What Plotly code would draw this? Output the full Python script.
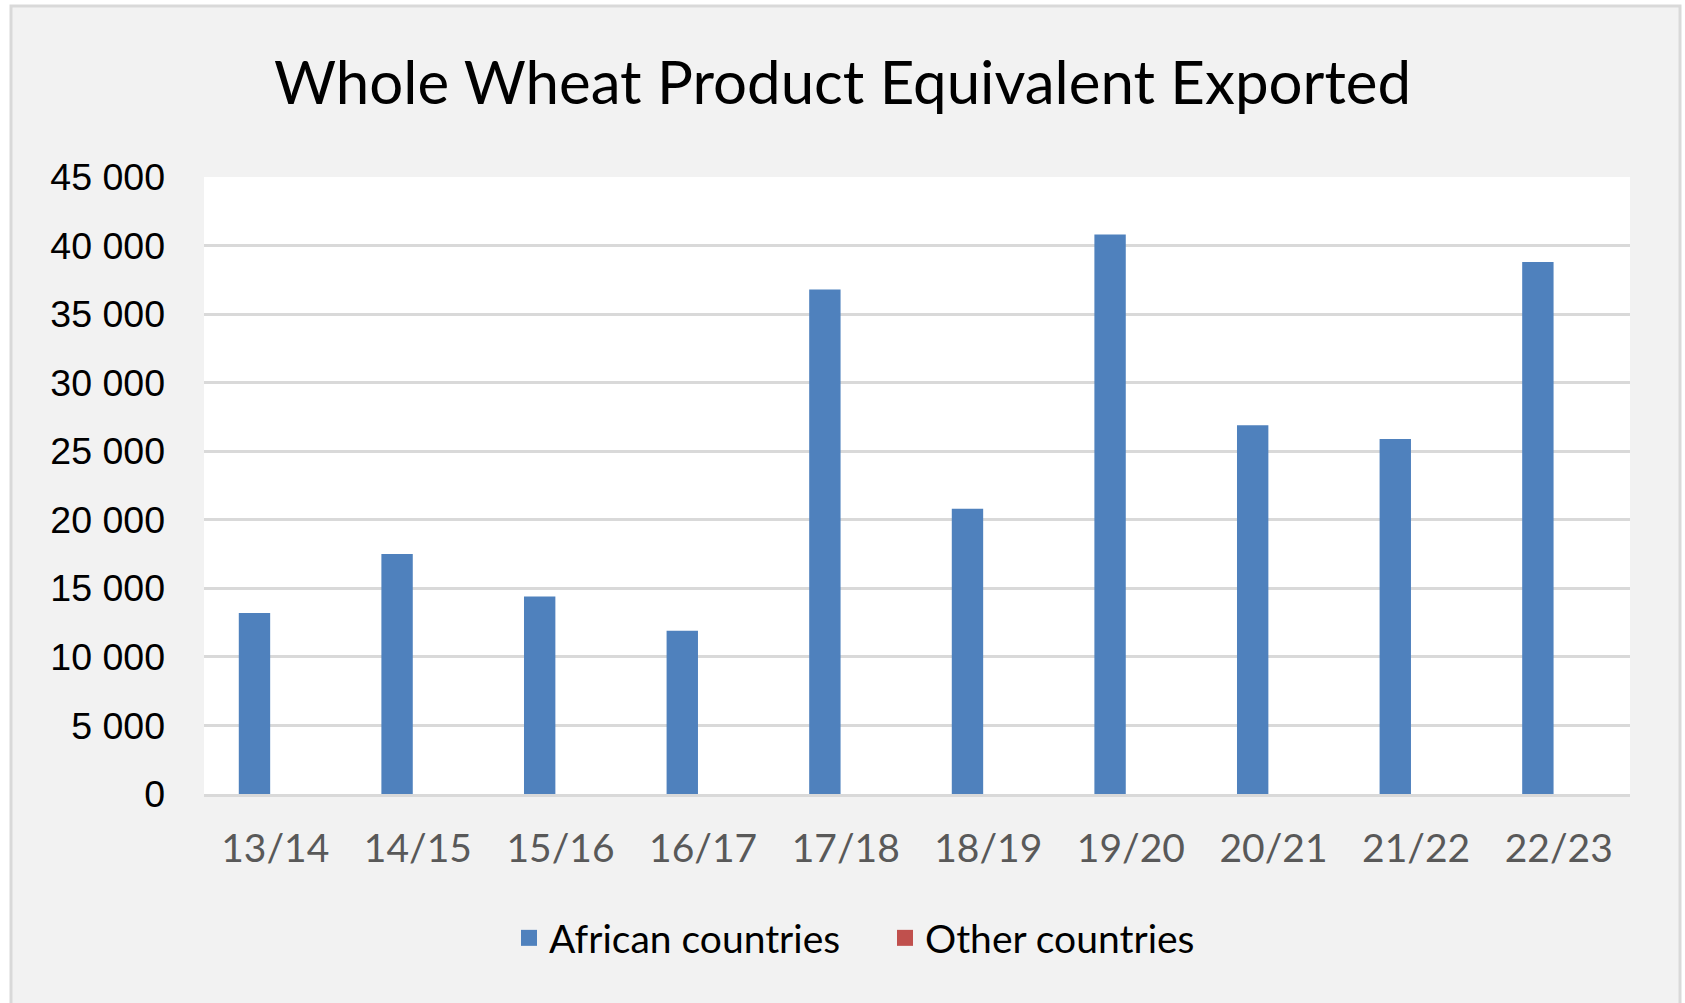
#!/usr/bin/env python3
# -*- coding: utf-8 -*-
import plotly.graph_objects as go

# =============================================================================
# Data
# =============================================================================
seasons = ["13/14", "14/15", "15/16", "16/17", "17/18",
           "18/19", "19/20", "20/21", "21/22", "22/23"]
african = [13200, 17500, 14400, 11900, 36800, 20800, 40800, 26900, 25900, 38800]
other = [0, 0, 0, 0, 0, 0, 0, 0, 0, 0]
y_ticks = [0, 5000, 10000, 15000, 20000, 25000, 30000, 35000, 40000, 45000]
y_labels = ["0", "5 000", "10 000", "15 000", "20 000",
            "25 000", "30 000", "35 000", "40 000", "45 000"]

title = "Whole Wheat Product Equivalent Exported"
calib = "Lato, Open Sans, sans-serif"
arial = "Liberation Sans, Arial, sans-serif"
blue = "#4F81BD"
red = "#C0504D"

# =============================================================================
# Figure
# =============================================================================
fig = go.Figure()
fig.add_trace(go.Bar(x=seasons, y=african, name="African countries",
                     marker=dict(color=blue, line_width=0),
                     width=0.22, offset=-0.256, showlegend=False))
fig.add_trace(go.Bar(x=seasons, y=other, name="Other countries",
                     marker=dict(color=red, line_width=0),
                     width=0.22, offset=-0.036, showlegend=False))

# legend entries (excel-like swatches)
for name, col in [("African countries", blue), ("Other countries", red)]:
    fig.add_trace(go.Scatter(x=[None], y=[None], mode="markers", name=name,
                             marker=dict(symbol="square", size=26, color=col)))

fig.update_layout(
    width=1685, height=1003,
    margin=dict(l=204, r=55, t=177, b=209),
    paper_bgcolor="white",
    plot_bgcolor="white",
    barmode="overlay",
    title=dict(text=title, x=0.5, xanchor="center", xref="container",
               y=1 - 83 / 1003, yanchor="middle", yref="container",
               font=dict(family=calib, size=60, color="black")),
    legend=dict(orientation="h", x=509 / 1685, xanchor="left", xref="container",
                y=1 - 938 / 1003, yanchor="middle", yref="container",
                font=dict(family=calib, size=39, color="black"),
                entrywidth=331, entrywidthmode="pixels", itemsizing="trace",
                bgcolor="rgba(0,0,0,0)", itemclick=False),
    showlegend=True,
)

fig.update_xaxes(showgrid=False, showline=True, linecolor="#D9D9D9", linewidth=3,
                 ticks="", ticklabelstandoff=18,
                 tickfont=dict(family=calib, size=39, color="#595959"))
fig.update_yaxes(range=[0, 45000], tickvals=y_ticks, ticktext=y_labels,
                 showgrid=True, gridcolor="#D9D9D9", gridwidth=3,
                 zeroline=False, showline=False, ticks="", ticklabelstandoff=38,
                 tickfont=dict(family=arial, size=37.5, color="black"))

# chart area (grey with light border) and white plot area
fig.add_shape(type="rect", xref="paper", yref="paper", layer="below",
              x0=-(204 - 11) / 1426, x1=1 + (1680 - 1630) / 1426,
              y0=-(1003 - 794 + 5) / 617, y1=1 + (177 - 6) / 617,
              fillcolor="#F2F2F2", line=dict(color="#D9D9D9", width=3))
fig.add_shape(type="rect", xref="x domain", yref="y domain", layer="below",
              x0=0, x1=1, y0=0, y1=1, fillcolor="white", line_width=0)

# page body has a default 8px margin; drop it so the chart fills the window
fig.write_html("out.html", config={"displayModeBar": False},
               post_script="document.body.style.margin='0';")
